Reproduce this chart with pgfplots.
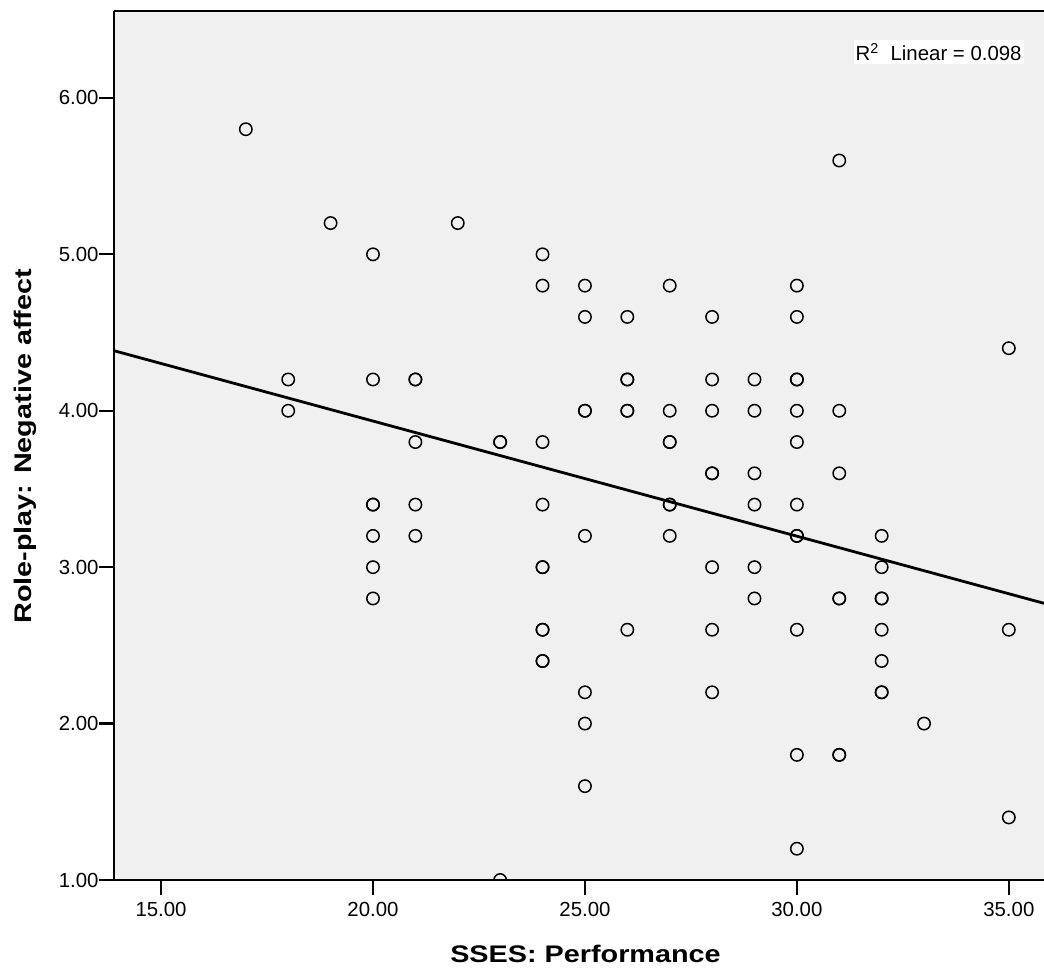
\documentclass[border=0pt]{standalone}
\usepackage{fontspec}
\setmainfont{Liberation Sans}
\newfontfamily\labfont{Liberation Sans}[FakeStretch=1.2]
\usepackage{pgfplots}
\pgfplotsset{compat=1.18}
\definecolor{bgc}{RGB}{240,240,240}
\begin{document}
\begin{tikzpicture}
\useasboundingbox (0,0) rectangle (522pt,486pt);
\begin{axis}[
  name=ax,
  at={(57pt,46pt)}, anchor=south west,
  scale only axis, width=465pt, height=434.5pt,
  xmin=13.89, xmax=35.83, ymin=1, ymax=6.556,
  axis x line*=bottom, axis y line*=left,
  axis line style={line width=1.2pt},
  axis background/.style={fill=bgc},
  tick align=outside, major tick length=7.5pt,
  tick style={line width=1.1pt, black},
  xtick={15,20,25,30,35},
  xticklabels={15.00,20.00,25.00,30.00,35.00},
  ytick={1,2,3,4,5,6},
  yticklabels={1.00,2.00,3.00,4.00,5.00,6.00},
  ticklabel style={font=\fontsize{10.2}{12}\selectfont},
  yticklabel style={inner xsep=0pt},
  xlabel={SSES: Performance},
  ylabel={Role-play: Negative affect},
  xlabel style={font=\labfont\bfseries\fontsize{12}{14}\selectfont, at={(axis description cs:0.507,0)}, anchor=base, yshift=-41.5pt},
  ylabel style={font=\labfont\bfseries\fontsize{12}{14}\selectfont, at={(axis description cs:-0.0957,0.499)}, anchor=center},
  clip marker paths=true,
]
\addplot[only marks, mark=o, mark size=3.1pt, mark options={line width=0.75pt, black}] coordinates {
(17,5.8)
(18,4.2)(18,4.0)
(19,5.2)
(20,5.0)(20,4.2)(20,3.4)(20,3.4)(20,3.2)(20,3.0)(20,2.8)
(21,4.2)(21,4.2)(21,3.8)(21,3.4)(21,3.2)
(22,5.2)
(23,3.8)(23,3.8)(23,1.0)
(24,5.0)(24,4.8)(24,3.8)(24,3.4)(24,3.0)(24,3.0)(24,2.6)(24,2.6)(24,2.4)(24,2.4)
(25,4.8)(25,4.6)(25,4.0)(25,4.0)(25,3.2)(25,2.2)(25,2.0)(25,1.6)
(26,4.6)(26,4.2)(26,4.2)(26,4.0)(26,4.0)(26,2.6)
(27,4.8)(27,4.0)(27,3.8)(27,3.8)(27,3.4)(27,3.4)(27,3.2)
(28,4.6)(28,4.2)(28,4.0)(28,3.6)(28,3.6)(28,3.0)(28,2.6)(28,2.2)
(29,4.2)(29,4.0)(29,3.6)(29,3.4)(29,3.0)(29,2.8)
(30,4.8)(30,4.6)(30,4.2)(30,4.2)(30,4.0)(30,3.8)(30,3.4)(30,3.2)(30,3.2)(30,2.6)(30,1.8)(30,1.2)
(31,5.6)(31,4.0)(31,3.6)(31,2.8)(31,2.8)(31,1.8)(31,1.8)
(32,3.2)(32,3.0)(32,2.8)(32,2.8)(32,2.6)(32,2.4)(32,2.2)(32,2.2)
(33,2.0)
(35,4.4)(35,2.6)(35,1.4)
};
\addplot[black, line width=1.4pt, no marks] coordinates {(13.89,4.384) (35.83,2.769)};
\node[anchor=north east, fill=white, inner xsep=1pt, inner ysep=1.5pt, font=\fontsize{10.2}{12}\selectfont] at (rel axis cs:0.9785,0.9666) {R\textsuperscript{2}\ \ Linear = 0.098};
\end{axis}
\draw[line width=1.2pt] (ax.north west) -- (ax.north east);
\end{tikzpicture}
\end{document}
